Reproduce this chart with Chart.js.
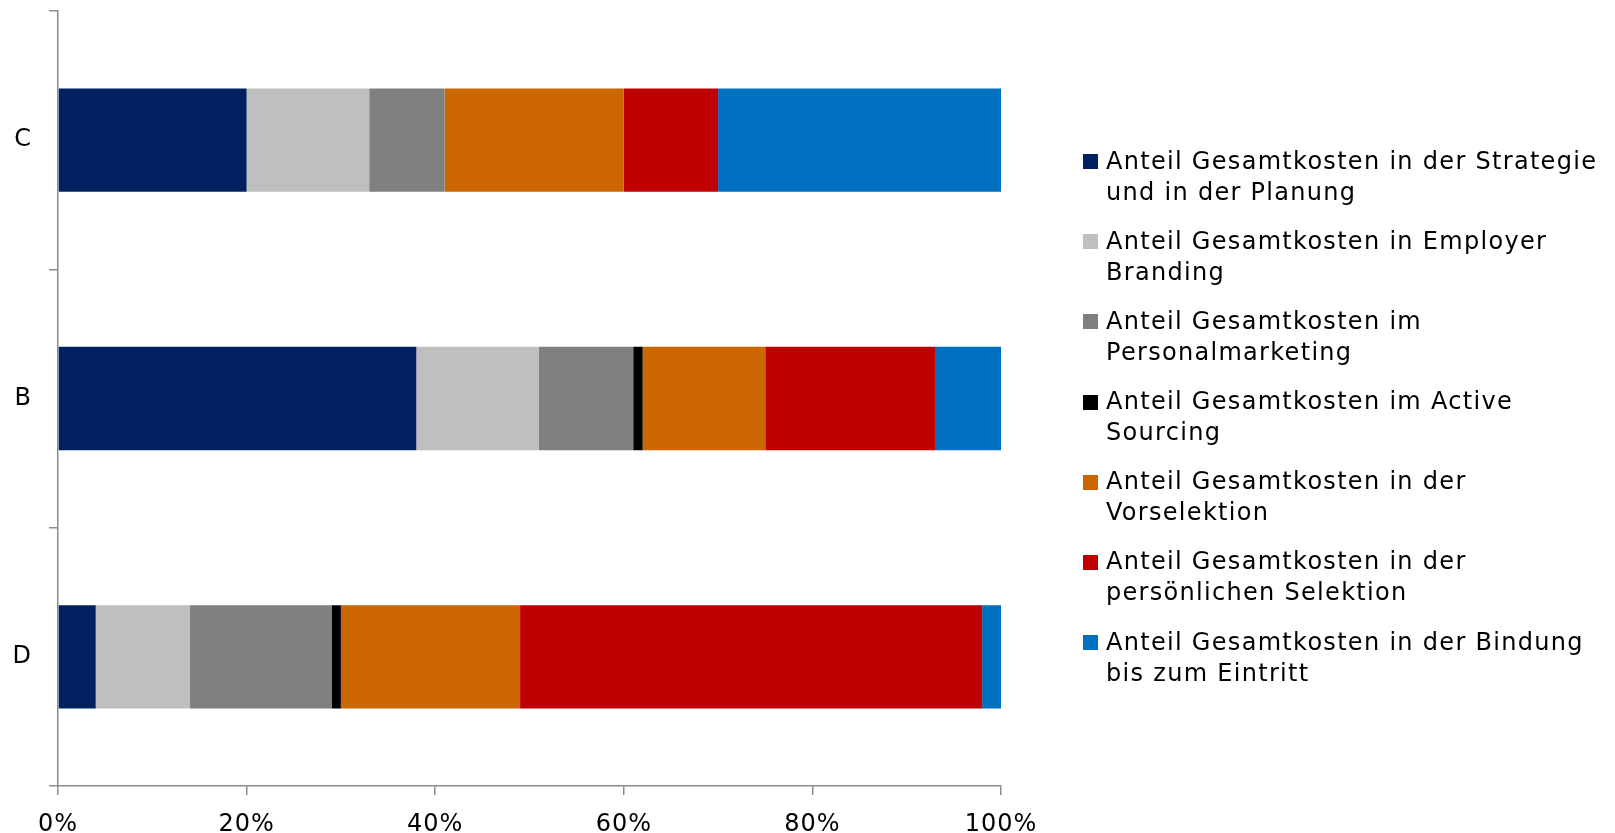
<!DOCTYPE html>
<html lang="de">
<head>
<meta charset="utf-8">
<title>Anteil Gesamtkosten</title>
<script src="https://cdn.jsdelivr.net/npm/chart.js@4/dist/chart.umd.min.js"></script>
<style>
  body { margin: 0; background: #fff; overflow: hidden; }
  #wrap { position: relative; width: 1615px; height: 833px; }
  #legende {
    position: absolute; left: 1083px; top: 145.5px;
    font-family: 'DejaVu Sans', Verdana, sans-serif;
    font-size: 24px; line-height: 31px; letter-spacing: 1.3px; color: #000;
  }
  .eintrag { position: relative; padding-left: 23px; margin-bottom: 18.2px; white-space: nowrap; }
  .eintrag span.box { position: absolute; left: 0; top: 8.5px; width: 15px; height: 15px; }
</style>
</head>
<body>
<div id="wrap">
  <canvas id="myChart" width="1615" height="833"></canvas>
  <div id="legende"></div>
</div>
<script>
// Kategorien (von oben nach unten)
var kategorien = ['C', 'B', 'D'];

// Anteile in % je Kostenblock
var strategie   = [20, 38, 4];
var employer    = [13, 13, 10];
var personal    = [8, 10, 15];
var active      = [0, 1, 1];
var vorselektion = [19, 13, 19];
var persoenlich = [10, 18, 49];
var bindung     = [30, 7, 2];

var xTicks = [0, 20, 40, 60, 80, 100];

// Legendentexte, zeilenweise umbrochen
var namen = [
  ['Anteil Gesamtkosten in der Strategie', 'und in der Planung'],
  ['Anteil Gesamtkosten in Employer', 'Branding'],
  ['Anteil Gesamtkosten im', 'Personalmarketing'],
  ['Anteil Gesamtkosten im Active', 'Sourcing'],
  ['Anteil Gesamtkosten in der', 'Vorselektion'],
  ['Anteil Gesamtkosten in der', 'persönlichen Selektion'],
  ['Anteil Gesamtkosten in der Bindung', 'bis zum Eintritt']
];
var farben = ['#002060', '#BFBFBF', '#808080', '#000000', '#CC6600', '#C00000', '#0070C0'];
var werte = [strategie, employer, personal, active, vorselektion, persoenlich, bindung];

var achsenFarbe = '#8c8c8c';
var schrift = { family: "'DejaVu Sans', Verdana, sans-serif", size: 24 };

var datasets = werte.map(function (w, i) {
  return {
    label: namen[i].join(' '),
    data: w,
    backgroundColor: farben[i],
    borderWidth: 0,
    categoryPercentage: 1.0,
    barPercentage: 0.4
  };
});

// etwas Laufweite wie im Original
var laufweite = {
  id: 'laufweite',
  beforeDraw: function (chart) { chart.ctx.letterSpacing = '1px'; }
};

var ctx = document.getElementById('myChart').getContext('2d');
var myChart = new Chart(ctx, {
  type: 'bar',
  data: { labels: kategorien, datasets: datasets },
  plugins: [laufweite],
  options: {
    responsive: false,
    animation: false,
    indexAxis: 'y',
    layout: { padding: { top: 11, right: 614, bottom: 0, left: 0 } },
    plugins: {
      legend: { display: false },
      tooltip: { enabled: false }
    },
    scales: {
      x: {
        stacked: true,
        min: 0,
        max: 100,
        afterBuildTicks: function (scale) {
          scale.ticks = xTicks.map(function (v) { return { value: v }; });
        },
        afterFit: function (scale) {
          scale.height = 47;
          scale.paddingLeft = 0;
          scale.paddingRight = 0;
        },
        ticks: {
          color: '#000',
          font: schrift,
          padding: 15,
          maxRotation: 0,
          callback: function (v) { return v + '%'; }
        },
        grid: { drawOnChartArea: false, drawTicks: true, tickLength: 9, color: achsenFarbe, lineWidth: 1.5 },
        border: { display: true, color: achsenFarbe, width: 1.5 }
      },
      y: {
        stacked: true,
        afterFit: function (scale) {
          scale.width = 58;
          scale.paddingTop = 0;
          scale.paddingBottom = 0;
        },
        ticks: { color: '#000', font: schrift, padding: 17 },
        grid: { offset: true, drawOnChartArea: false, drawTicks: true, tickLength: 9, color: achsenFarbe, lineWidth: 1.5 },
        border: { display: true, color: achsenFarbe, width: 1.5 }
      }
    }
  }
});

// Legende als HTML aufbauen (mehrzeilige Einträge)
var legende = document.getElementById('legende');
namen.forEach(function (zeilen, i) {
  var div = document.createElement('div');
  div.className = 'eintrag';
  var box = document.createElement('span');
  box.className = 'box';
  box.style.background = farben[i];
  div.appendChild(box);
  zeilen.forEach(function (z, j) {
    if (j > 0) div.appendChild(document.createElement('br'));
    div.appendChild(document.createTextNode(z));
  });
  legende.appendChild(div);
});
</script>
</body>
</html>
